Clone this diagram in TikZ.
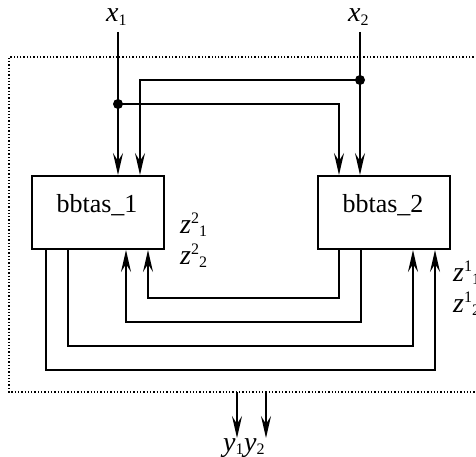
\documentclass[tikz,border=0pt]{standalone}
\usepackage{fontspec}
\setmainfont{Liberation Serif}
\usetikzlibrary{arrows.meta}
\newcommand\mysub[1]{\raisebox{-0.25ex}{\fontsize{16}{17}\selectfont #1}}
\newcommand\mysup[1]{\raisebox{0.75ex}{\fontsize{16}{17}\selectfont #1}}
\tikzset{
  wire/.style={line width=2pt},
  arr/.style={wire,-{Stealth[length=22pt,width=10pt,inset=8pt]}},
  blk/.style={draw,line width=2pt,minimum width=132pt,minimum height=73pt,inner sep=0pt,anchor=north west},
  jdot/.style={circle,fill,inner sep=0pt,minimum size=10pt},
  btxt/.style={font=\fontsize{26}{30}\selectfont,anchor=base,inner sep=0pt},
  mlbl/.style={font=\fontsize{28}{30}\selectfont,anchor=base west,inner sep=0pt},
  frame/.style={dotted,line width=1.3pt},
}
\begin{document}
\begin{tikzpicture}[x=1pt,y=-1pt]
\useasboundingbox (0,0) rectangle (476,457);
% frame
\draw[frame] (490,57) -- (9,57) -- (9,392) -- (490,392);
% blocks
\node[blk] (b1) at (31,175) {};
\node[blk] (b2) at (317,175) {};
\node[btxt] (t1) at (97,212) {bbtas\_1};
\node[btxt] (t2) at (383,212) {bbtas\_2};
% inputs
\coordinate (x1top) at (118,32);
\coordinate (x2top) at (360,32);
\node[mlbl] (x1lab) at (106,22) {\textit{x}\mysub{1}};
\node[mlbl] (x2lab) at (348,22) {\textit{x}\mysub{2}};
\node[jdot] (d1) at (118,104) {};
\node[jdot] (d2) at (360,80) {};
\draw[arr] (x1top) -- (x1top |- b1.north);
\draw[arr] (x2top) -- (x2top |- b2.north);
\draw[arr] (d1.center) -| ([xshift=22pt]b2.north west);
\draw[arr] (d2.center) -| ([xshift=109pt]b1.north west);
% feedback loops
\draw[arr] ([xshift=22pt]b2.south west) -- ++(0,48) -| ([xshift=117pt]b1.south west);
\draw[arr] ([xshift=44pt]b2.south west) -- ++(0,72) -| ([xshift=95pt]b1.south west);
\draw[arr] ([xshift=37pt]b1.south west) -- ++(0,96) -| ([xshift=96pt]b2.south west);
\draw[arr] ([xshift=15pt]b1.south west) -- ++(0,120) -| ([xshift=118pt]b2.south west);
% z labels
\node[mlbl] (z21) at (180,233) {\textit{z}\mysup{2}\mysub{1}};
\node[mlbl] (z22) at (180,264) {\textit{z}\mysup{2}\mysub{2}};
\node[mlbl] (z11) at (453,281) {\textit{z}\mysup{1}\mysub{1}};
\node[mlbl] (z12) at (453,312) {\textit{z}\mysup{1}\mysub{2}};
% outputs
\coordinate (o1) at (237,392);
\coordinate (o2) at (266,392);
\draw[arr] (o1) -- ++(0,46);
\draw[arr] (o2) -- ++(0,46);
\node[mlbl] (y1lab) at (223,451) {\textit{y}\mysub{1}};
\node[mlbl] (y2lab) at (244,451) {\textit{y}\mysub{2}};
\end{tikzpicture}
\end{document}
